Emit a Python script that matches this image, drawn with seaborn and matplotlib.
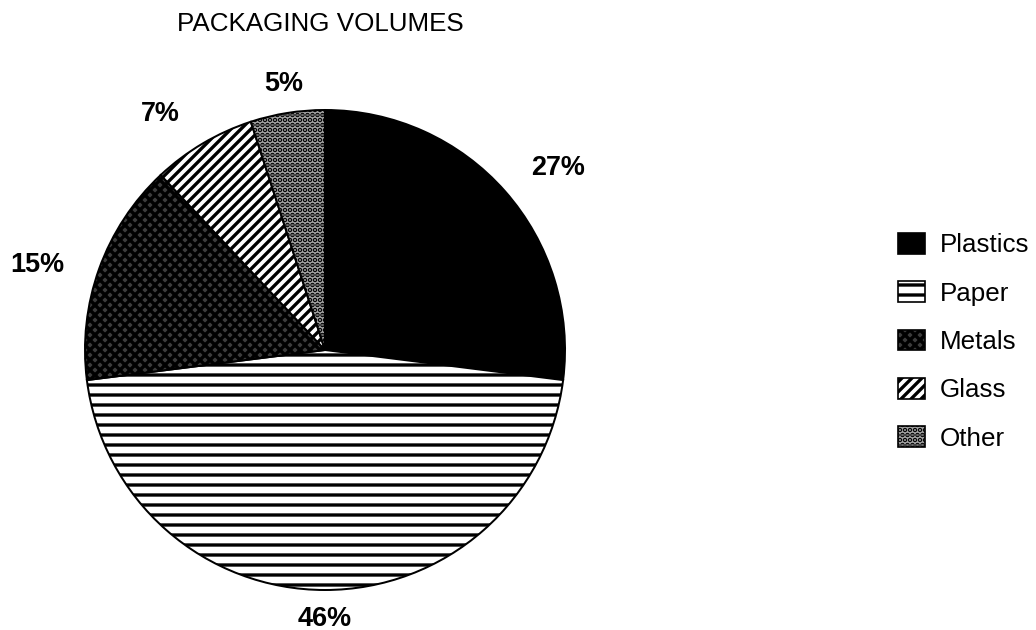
import matplotlib
matplotlib.use("Agg")
import matplotlib.pyplot as plt
import matplotlib.patches as mpatches
import numpy as np
import seaborn as sns

# Packaging volume shares (percent)
categories = ["Plastics", "Paper", "Metals", "Glass", "Other"]
shares = [27, 46, 15, 7, 5]
pct_labels = ["27%", "46%", "15%", "7%", "5%"]

# Fill styles for each material
face_colors = ["black", "white", "#3c3c3c", "white", "#a8a8a8"]
hatches = [None, "-", "xx", "//", ".."]
# label placement: radial distance and angular nudge (degrees) per slice
label_dist = [1.23, 1.12, 1.25, 1.20, 1.12]
label_nudge = [-3.4, 0.0, 3.4, 4.2, -0.2]

sns.set_theme(style="white")
plt.rcParams["font.family"] = ["Liberation Sans", "DejaVu Sans"]
plt.rcParams["text.color"] = "black"
plt.rcParams["hatch.linewidth"] = 4.0
plt.rcParams["hatch.color"] = "black"

DPI = 60
W, H = 1036, 630
PX = 72.0 / DPI  # points per pixel

fig = plt.figure(figsize=(W / DPI, H / DPI), dpi=DPI)
fig.patch.set_facecolor("white")

# Pie axes: centre (325, 350) px, radius 240 px
cx, cy, r = 325, 350, 240
ax = fig.add_axes([(cx - r) / W, (H - cy - r) / H, 2 * r / W, 2 * r / H])

wedges, _ = ax.pie(
    shares,
    startangle=90,
    counterclock=False,
    colors=face_colors,
    wedgeprops=dict(edgecolor="black", linewidth=2.4),
)
for w, h in zip(wedges, hatches):
    if h:
        w.set_hatch(h)

ax.set_xlim(-1, 1)
ax.set_ylim(-1, 1)
ax.set_aspect("equal")
ax.axis("off")

for w, txt, d, nudge in zip(wedges, pct_labels, label_dist, label_nudge):
    mid = np.deg2rad((w.theta1 + w.theta2) / 2.0 + nudge)
    ax.text(d * np.cos(mid), d * np.sin(mid), txt,
            ha="center", va="center", fontsize=27 * PX,
            fontweight="bold", color="black", clip_on=False)

fig.text(177 / W, 1 - 24 / H, "PACKAGING VOLUMES", ha="left", va="center",
         fontsize=26 * PX, color="black")

handles = [
    mpatches.Patch(facecolor=fc, edgecolor="black", hatch=h, linewidth=2.0,
                   label=lab)
    for fc, h, lab in zip(face_colors, hatches, categories)
]
leg = fig.legend(
    handles=handles,
    loc="upper left",
    bbox_to_anchor=(898 / W, 1 - 233 / H),
    frameon=False,
    fontsize=26 * PX,
    handlelength=1.05,
    handleheight=0.85,
    handletextpad=0.55,
    labelspacing=0.92,
    borderpad=0,
    borderaxespad=0,
)
for t in leg.get_texts():
    t.set_color("black")

fig.savefig("out.png", dpi=DPI, facecolor="white")
